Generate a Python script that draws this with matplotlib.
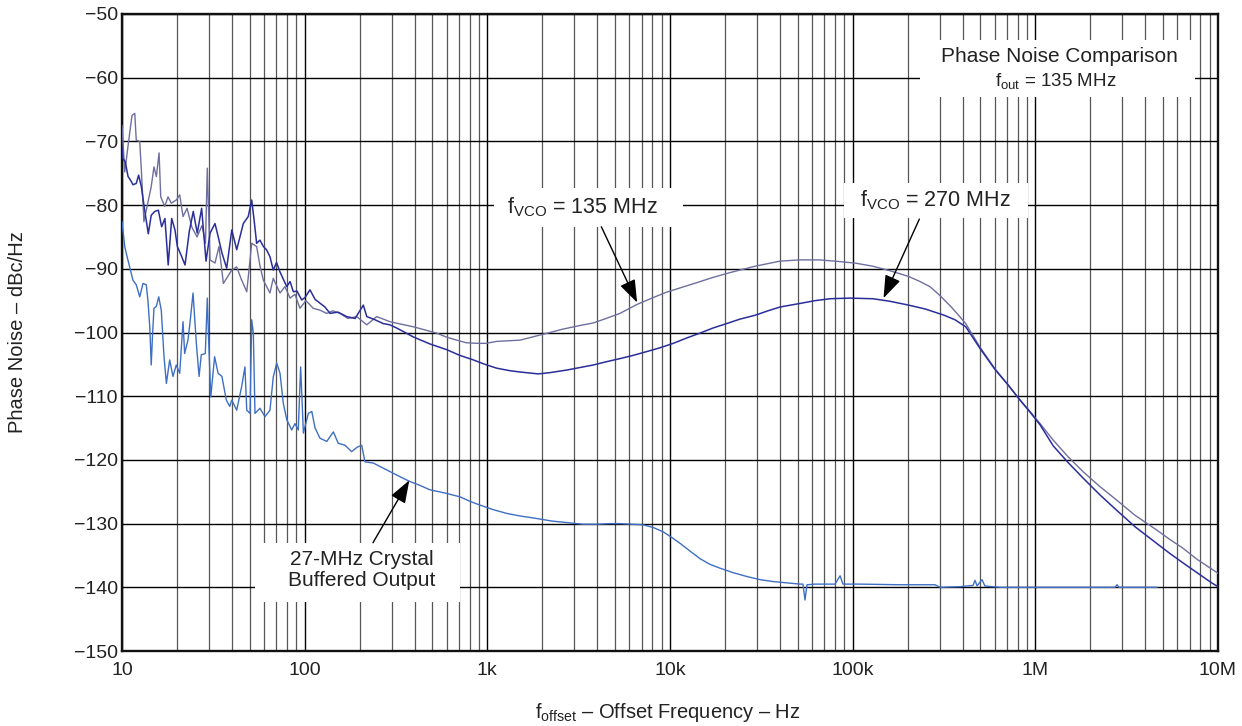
import numpy as np
import matplotlib
matplotlib.use('Agg')
import matplotlib.pyplot as plt
from matplotlib.ticker import LogLocator, NullFormatter
from matplotlib.patches import Rectangle

plt.rcParams['font.family'] = ['Liberation Sans', 'DejaVu Sans']
plt.rcParams['mathtext.fontset'] = 'custom'
plt.rcParams['mathtext.rm'] = 'Liberation Sans'
plt.rcParams['mathtext.it'] = 'Liberation Sans'
plt.rcParams['mathtext.default'] = 'regular'

# ---------------- data (log10 of offset frequency in Hz, phase noise in dBc/Hz) -------------
vco135_logf = [1.000, 1.015, 1.042, 1.055, 1.070, 1.078, 1.097, 1.106, 1.120, 1.133, 1.160, 1.175,
               1.188, 1.203, 1.212, 1.234, 1.252, 1.270, 1.297, 1.316, 1.334, 1.356, 1.383, 1.411,
               1.438, 1.457, 1.467, 1.482, 1.509, 1.531, 1.555, 1.601, 1.628, 1.651, 1.683, 1.710,
               1.737, 1.755, 1.774, 1.810, 1.828, 1.865, 1.892, 1.920, 1.947, 1.974, 2.007, 2.047,
               2.084, 2.121, 2.155, 2.193, 2.237, 2.285, 2.340, 2.394, 2.467, 2.513, 2.595, 2.659,
               2.723, 2.774, 2.832, 2.883, 2.942, 2.993, 3.051, 3.113, 3.179, 3.234, 3.288, 3.343,
               3.409, 3.507, 3.580, 3.650, 3.726, 3.819, 3.901, 3.978, 4.055, 4.133, 4.230, 4.328,
               4.465, 4.602, 4.712, 4.817, 4.903, 5.013, 5.111, 5.204, 5.306, 5.369, 5.423, 5.478,
               5.540, 5.577, 5.619, 5.697, 5.779, 5.850, 5.916, 5.971, 6.026, 6.098, 6.179, 6.263,
               6.354, 6.445, 6.546, 6.664, 6.737, 6.810, 6.885, 6.974, 7.000]
vco135_db = [-67.5, -74.8, -68.7, -65.9, -65.6, -69.8, -70.0, -74.5, -82.6, -80.8, -77.1, -74.0,
             -75.5, -71.8, -78.7, -80.2, -78.7, -79.7, -79.2, -78.4, -81.8, -80.5, -83.5, -85.0,
             -83.2, -86.0, -74.2, -88.6, -89.1, -86.5, -92.3, -90.2, -89.7, -91.5, -93.6, -86.0,
             -86.5, -89.5, -91.8, -93.8, -91.5, -93.8, -92.8, -94.6, -94.0, -96.2, -95.0, -96.2,
             -96.5, -97.0, -96.6, -97.0, -97.8, -97.5, -98.8, -97.5, -98.3, -98.6, -99.1, -99.6,
             -100.1, -100.7, -101.2, -101.6, -101.7, -101.7, -101.4, -101.3, -101.2, -100.8, -100.4, -100.0,
             -99.5, -98.9, -98.5, -97.8, -97.0, -95.6, -94.6, -93.7, -93.0, -92.3, -91.4, -90.6,
             -89.6, -88.8, -88.6, -88.6, -88.8, -89.1, -89.6, -90.3, -91.2, -92.0, -92.8, -94.2,
             -96.0, -97.2, -98.6, -102.3, -105.7, -108.2, -110.6, -112.4, -114.3, -116.9, -119.5, -121.9,
             -124.2, -126.3, -128.7, -131.0, -132.5, -133.9, -135.6, -137.3, -137.8]

vco270_logf = [1.000, 1.005, 1.018, 1.033, 1.051, 1.060, 1.078, 1.091, 1.106, 1.124, 1.144, 1.160,
               1.179, 1.199, 1.217, 1.235, 1.253, 1.272, 1.290, 1.303, 1.327, 1.345, 1.368, 1.390,
               1.412, 1.436, 1.460, 1.482, 1.509, 1.527, 1.547, 1.573, 1.601, 1.628, 1.664, 1.691,
               1.710, 1.723, 1.737, 1.755, 1.774, 1.791, 1.810, 1.828, 1.846, 1.865, 1.881, 1.902,
               1.920, 1.938, 1.958, 1.984, 2.002, 2.029, 2.057, 2.084, 2.111, 2.139, 2.182, 2.230,
               2.276, 2.321, 2.340, 2.385, 2.430, 2.467, 2.504, 2.595, 2.686, 2.778, 2.850, 2.923,
               2.987, 3.051, 3.124, 3.179, 3.279, 3.343, 3.434, 3.507, 3.580, 3.650, 3.726, 3.797,
               3.872, 3.945, 4.018, 4.088, 4.164, 4.235, 4.310, 4.383, 4.465, 4.536, 4.602, 4.719,
               4.794, 4.876, 4.985, 5.111, 5.204, 5.306, 5.396, 5.502, 5.560, 5.619, 5.697, 5.779,
               5.850, 5.916, 5.971, 6.026, 6.098, 6.179, 6.263, 6.354, 6.445, 6.546, 6.664, 6.737,
               6.810, 6.885, 6.965, 7.000]
vco270_db = [-71.0, -72.7, -73.2, -75.5, -76.3, -76.8, -76.6, -75.3, -77.1, -80.8, -84.5, -81.6,
             -81.0, -80.8, -83.4, -82.1, -89.4, -82.1, -83.9, -86.5, -88.1, -89.4, -84.2, -81.0,
             -84.4, -80.5, -88.8, -84.4, -82.9, -85.0, -87.5, -89.9, -83.9, -87.0, -82.9, -81.8,
             -79.2, -82.3, -86.0, -85.5, -86.5, -87.0, -88.1, -90.2, -89.0, -90.5, -91.5, -92.8,
             -92.0, -93.6, -93.5, -94.9, -94.5, -93.3, -94.8, -95.4, -96.0, -97.0, -96.8, -97.5,
             -97.8, -95.7, -97.5, -98.0, -98.6, -98.8, -99.3, -100.7, -101.8, -102.7, -103.6, -104.3,
             -105.0, -105.6, -106.0, -106.2, -106.5, -106.3, -105.9, -105.5, -105.1, -104.6, -104.1, -103.6,
             -103.0, -102.4, -101.7, -100.9, -100.1, -99.3, -98.6, -97.9, -97.3, -96.6, -96.0, -95.4,
             -95.0, -94.7, -94.6, -94.7, -95.1, -95.7, -96.3, -97.3, -98.0, -99.1, -102.5, -105.8,
             -108.2, -110.6, -112.5, -114.5, -117.8, -120.4, -122.9, -125.5, -127.9, -130.5, -133.1, -134.7,
             -136.2, -137.7, -139.3, -139.9]

xtal_logf = [1.000, 1.015, 1.027, 1.042, 1.060, 1.078, 1.097, 1.115, 1.133, 1.142, 1.152, 1.160,
             1.167, 1.175, 1.188, 1.201, 1.215, 1.230, 1.243, 1.261, 1.279, 1.297, 1.316, 1.334,
             1.343, 1.361, 1.371, 1.389, 1.407, 1.422, 1.434, 1.456, 1.467, 1.475, 1.486, 1.507,
             1.526, 1.547, 1.571, 1.590, 1.601, 1.628, 1.655, 1.673, 1.683, 1.701, 1.710, 1.719,
             1.728, 1.755, 1.783, 1.810, 1.828, 1.847, 1.865, 1.883, 1.902, 1.929, 1.947, 1.965,
             1.978, 1.993, 2.020, 2.039, 2.057, 2.084, 2.121, 2.157, 2.184, 2.221, 2.257, 2.288,
             2.312, 2.330, 2.376, 2.430, 2.485, 2.540, 2.577, 2.631, 2.686, 2.768, 2.850, 2.905,
             2.960, 3.031, 3.106, 3.179, 3.270, 3.354, 3.453, 3.524, 3.599, 3.672, 3.726, 3.792,
             3.854, 3.907, 3.963, 4.011, 4.055, 4.109, 4.164, 4.219, 4.274, 4.345, 4.420, 4.493,
             4.565, 4.640, 4.712, 4.728, 4.739, 4.750, 4.794, 4.903, 4.931, 4.947, 5.040, 5.259,
             5.451, 5.478, 5.588, 5.659, 5.670, 5.681, 5.708, 5.724, 5.807, 6.080, 6.354, 6.436,
             6.447, 6.458, 6.666]
xtal_db = [-82.6, -86.5, -88.0, -89.7, -91.8, -92.5, -94.4, -92.3, -92.5, -95.0, -99.1, -105.1,
           -100.5, -96.2, -95.9, -94.4, -96.5, -103.8, -108.0, -104.3, -106.9, -105.1, -106.4, -98.3,
           -103.3, -101.2, -98.8, -93.8, -101.7, -106.9, -103.5, -103.3, -94.6, -101.7, -110.1, -103.8,
           -106.4, -106.9, -110.6, -111.6, -110.6, -112.2, -108.5, -105.4, -112.2, -112.7, -98.0, -100.1,
           -112.7, -111.9, -113.2, -112.2, -107.0, -104.8, -106.4, -111.1, -113.7, -115.3, -114.3, -115.3,
           -105.4, -115.8, -112.7, -112.4, -115.0, -116.6, -117.1, -115.6, -117.4, -117.7, -118.7, -118.0,
           -117.7, -120.3, -120.5, -121.3, -122.1, -122.9, -123.4, -124.0, -124.7, -125.2, -125.8, -126.5,
           -127.1, -127.8, -128.4, -128.8, -129.2, -129.6, -129.9, -130.1, -130.1, -130.0, -130.0, -130.1,
           -130.2, -130.6, -131.3, -132.2, -133.1, -134.3, -135.5, -136.4, -137.0, -137.7, -138.3, -138.8,
           -139.1, -139.3, -139.5, -139.5, -142.0, -139.6, -139.5, -139.5, -138.2, -139.5, -139.5, -139.6,
           -139.6, -140.0, -139.9, -139.7, -138.9, -139.8, -138.8, -139.8, -140.0, -140.0, -140.0, -140.0,
           -139.6, -140.0, -140.0]

xtick_vals = [10, 100, 1e3, 1e4, 1e5, 1e6, 1e7]
xtick_labels = ['10', '100', '1k', '10k', '100k', '1M', '10M']
ytick_vals = [-50, -60, -70, -80, -90, -100, -110, -120, -130, -140, -150]
ytick_labels = ['\u221250', '\u221260', '\u221270', '\u221280', '\u221290', '\u2212100',
                '\u2212110', '\u2212120', '\u2212130', '\u2212140', '\u2212150']

c135 = '#6f6f9f'
c270 = '#2a2e9a'
cxtal = '#3e6fc4'

# ---------------- figure ----------------
W, H = 1242, 726
fig = plt.figure(figsize=(W / 100, H / 100), dpi=100)
L, R, T, B = 122, 1218, 14, 651
ax = fig.add_axes([L / W, 1 - B / H, (R - L) / W, (B - T) / H])

ax.set_xscale('log')
ax.set_xlim(10, 1e7)
ax.set_ylim(-150, -50)
ax.set_axisbelow(True)

ax.set_xticks(xtick_vals)
ax.set_xticklabels(xtick_labels)
ax.xaxis.set_minor_locator(LogLocator(base=10, subs=np.arange(2, 10), numticks=100))
ax.xaxis.set_minor_formatter(NullFormatter())
ax.set_yticks(ytick_vals)
ax.set_yticklabels(ytick_labels)
ax.tick_params(which='both', length=0)
ax.tick_params(axis='x', pad=8, labelsize=14, labelcolor='#222222')
ax.tick_params(axis='y', pad=3, labelsize=14, labelcolor='#222222')

ax.grid(which='major', axis='both', color='black', linewidth=1.0)
ax.grid(which='minor', axis='x', color='#555555', linewidth=0.9)
for s in ax.spines.values():
    s.set_linewidth(1.7)
    s.set_color('#111111')

ax.plot(10 ** np.array(xtal_logf), xtal_db, color=cxtal, lw=1.0, zorder=3)
ax.plot(10 ** np.array(vco135_logf), vco135_db, color=c135, lw=1.0, zorder=3)
ax.plot(10 ** np.array(vco270_logf), vco270_db, color=c270, lw=1.1, zorder=4)

# white label boxes that cut the grid
def wbox(x0, x1, y0, y1):
    ax.add_patch(Rectangle(((x0 - L) / (R - L), (B - y1) / (B - T)),
                           (x1 - x0) / (R - L), (y1 - y0) / (B - T),
                           transform=ax.transAxes, facecolor='white', edgecolor='none', zorder=2))

wbox(920, 1195, 40, 97)
wbox(494, 683, 188, 227)
wbox(844, 1028, 183, 218)
wbox(255, 460, 543, 602)

def axpos(px, py):
    return ((px - L) / (R - L), (B - py) / (B - T))

ax.text(*axpos(1059, 57), 'Phase Noise Comparison', transform=ax.transAxes,
        ha='center', va='center', fontsize=15, color='#222222', zorder=6)
ax.text(*axpos(1056, 81), r'$f_{out}$ = 135 MHz', transform=ax.transAxes,
        ha='center', va='center', fontsize=13.5, color='#222222', zorder=6)
ax.text(*axpos(582, 207), r'$f_{VCO}$ = 135 MHz', transform=ax.transAxes,
        ha='center', va='center', fontsize=15.5, color='#222222', zorder=6)
ax.text(*axpos(935, 200), r'$f_{VCO}$ = 270 MHz', transform=ax.transAxes,
        ha='center', va='center', fontsize=15.5, color='#222222', zorder=6)
ax.text(*axpos(362, 570), '27-MHz Crystal\nBuffered Output', transform=ax.transAxes,
        ha='center', va='center', fontsize=15, color='#222222', linespacing=1.15, zorder=6)

arrow = dict(arrowstyle='-|>,head_length=1.4,head_width=0.5', color='black', lw=1.0,
             shrinkA=0, shrinkB=0)
ax.annotate('', xy=(10 ** 3.820, -95.3), xytext=(10 ** 3.624, -83.4), arrowprops=arrow, zorder=7)
ax.annotate('', xy=(10 ** 5.169, -94.6), xytext=(10 ** 5.365, -82.2), arrowprops=arrow, zorder=7)
ax.annotate('', xy=(10 ** 2.573, -123.2), xytext=(10 ** 2.374, -133.0), arrowprops=arrow, zorder=7)

fig.text(18 / W, 1 - 332 / H, 'Phase Noise \u2013 dBc/Hz', rotation=90, ha='center', va='center',
         fontsize=14.5, color='#222222')
fig.text(668 / W, 1 - 718 / H, '$f_{offset}$ \u2013 Offset Frequency \u2013 Hz',
         ha='center', va='baseline', fontsize=14.5, color='#222222')

fig.savefig('out.png', dpi=100, facecolor='white')
